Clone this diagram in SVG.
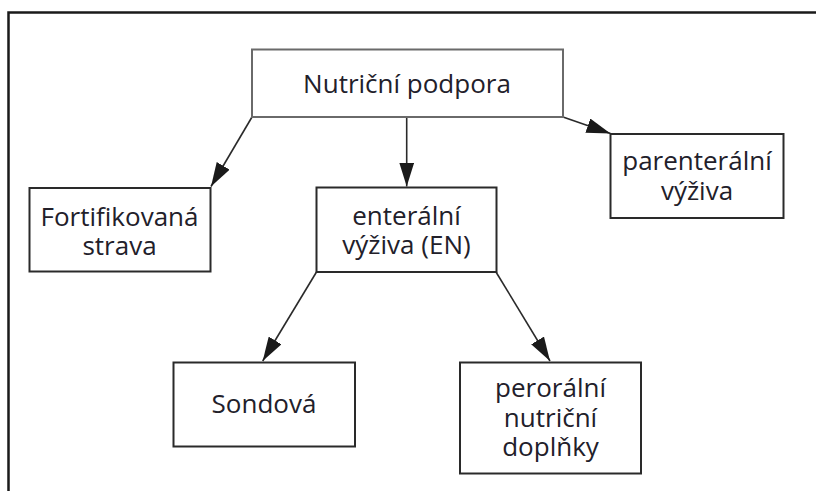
<svg xmlns="http://www.w3.org/2000/svg" width="816" height="491" viewBox="0 0 816 491">
<style>
.frame{fill:none;stroke:#1a1a1a;stroke-width:2.5}
.box{fill:#fff;stroke:#2a2a2a;stroke-width:2}
.box.main{stroke:#6a6a6a}
.lbl{font-family:"Open Sans","Noto Sans","DejaVu Sans",sans-serif;font-size:26px;fill:#22202a;text-anchor:middle}
.conn line{stroke:#2a2a2a;stroke-width:1.6;marker-end:url(#arr)}
</style>
<defs>
<marker id="arr" markerUnits="userSpaceOnUse" markerWidth="24" markerHeight="15" refX="24" refY="7.5" orient="auto">
<path d="M0,0 L24,7.5 L0,15 z" fill="#1a1a1a"/>
</marker>
</defs>
<rect width="816" height="491" fill="#fff"/>
<path class="frame" d="M8.5,491 V12.5 H816"/>
<g id="conn" class="conn">
<line x1="252" y1="117" x2="211" y2="186.5"/>
<line x1="406.7" y1="117" x2="406.7" y2="186.5"/>
<line x1="563" y1="117" x2="610.5" y2="133.5"/>
<line x1="316.5" y1="272" x2="262.7" y2="361"/>
<line x1="496" y1="272" x2="550" y2="361"/>
</g>
<g id="n-nutricni">
<rect class="box main" x="252" y="49.5" width="311" height="67.5"/>
<text class="lbl" x="407" y="93.3">Nutriční podpora</text>
</g>
<g id="n-fortifikovana">
<rect class="box" x="29.5" y="188" width="181" height="83.5"/>
<text class="lbl" x="119.5" y="225.7">Fortifikovaná</text>
<text class="lbl" x="119.5" y="255">strava</text>
</g>
<g id="n-enteralni">
<rect class="box" x="316.5" y="187.5" width="180" height="84.5"/>
<text class="lbl" x="406.5" y="225">enterální</text>
<text class="lbl" x="406.5" y="254">výživa (EN)</text>
</g>
<g id="n-parenteralni">
<rect class="box" x="610.5" y="134" width="173" height="84"/>
<text class="lbl" x="697" y="170">parenterální</text>
<text class="lbl" x="697" y="200">výživa</text>
</g>
<g id="n-sondova">
<rect class="box" x="173.5" y="362.5" width="181.5" height="84"/>
<text class="lbl" x="264" y="413">Sondová</text>
</g>
<g id="n-peroralni">
<rect class="box" x="460" y="362.5" width="181" height="111"/>
<text class="lbl" x="550.5" y="397">perorální</text>
<text class="lbl" x="550.5" y="426.5">nutriční</text>
<text class="lbl" x="550.5" y="455.5">doplňky</text>
</g>
</svg>
